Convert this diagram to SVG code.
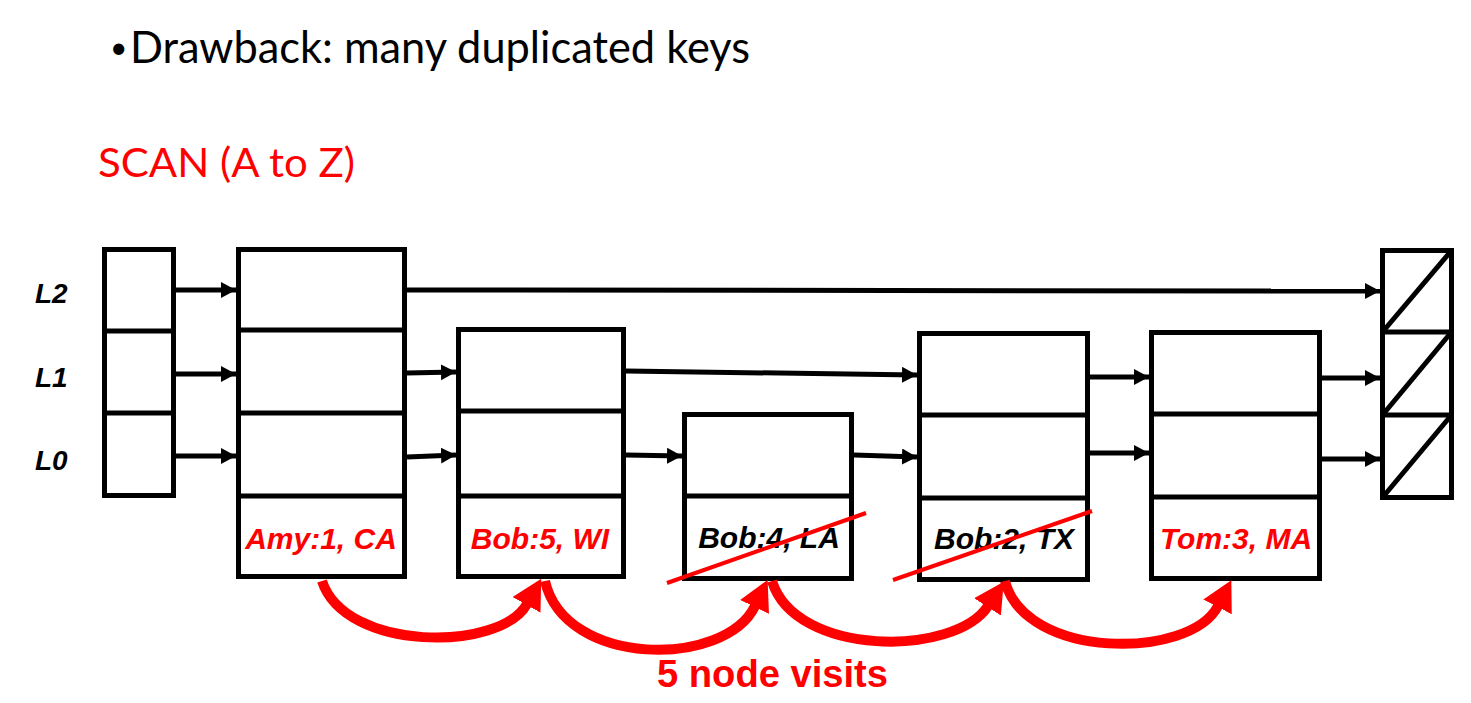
<svg xmlns="http://www.w3.org/2000/svg" width="1471" height="703" viewBox="0 0 1471 703">
<defs>
<style>
.box{fill:#fff;stroke:#000;stroke-width:5}
.div{stroke:#000;stroke-width:5}
.lnk{stroke:#000;stroke-width:5;fill:none;marker-end:url(#ah)}
.hop{stroke:#f00;stroke-width:10;fill:none;marker-end:url(#rh)}
.strike{stroke:#f00;stroke-width:4}
.lvl{font-family:"Liberation Sans",Arial,sans-serif;font-weight:bold;font-style:italic;font-size:28px;fill:#000}
.key{font-family:"Liberation Sans",Arial,sans-serif;font-weight:bold;font-style:italic;font-size:30px;text-anchor:middle}
.red{fill:#f00}
.blk{fill:#000}
</style>
<marker id="ah" markerUnits="userSpaceOnUse" markerWidth="16" markerHeight="18" refX="15" refY="8" orient="auto">
<path d="M0,0 L15,8 L0,16 Z" fill="#000"/>
</marker>
<marker id="rh" markerUnits="userSpaceOnUse" markerWidth="32" markerHeight="34" refX="1" refY="16" orient="auto">
<path d="M0,0 L30,16 L0,32 Z" fill="#f00"/>
</marker>
</defs>
<rect width="1471" height="703" fill="#fff"/>

<g id="title">
<text y="63" font-family="Lato,'Liberation Sans',sans-serif" font-size="44" fill="#000"><tspan x="110" y="58" font-size="30">•</tspan><tspan x="130" y="63" textLength="620" lengthAdjust="spacingAndGlyphs">Drawback: many duplicated keys</tspan></text>
</g>
<g id="scan-label">
<text x="98" y="177" font-family="Lato,'Liberation Sans',sans-serif" font-size="40" fill="#f00" textLength="257" lengthAdjust="spacingAndGlyphs">SCAN (A to Z)</text>
</g>
<g id="levels">
<text class="lvl" x="35" y="303">L2</text>
<text class="lvl" x="35" y="387">L1</text>
<text class="lvl" x="35" y="470">L0</text>
</g>

<g id="connectors">
<path class="lnk" d="M176,290 L236,290"/>
<path class="lnk" d="M176,374 L236,374"/>
<path class="lnk" d="M176,456 L236,456"/>
<path class="lnk" d="M407,290 L1380,291"/>
<path class="lnk" d="M407,373 L456,372"/>
<path class="lnk" d="M407,457 L456,455"/>
<path class="lnk" d="M626,371 L917,375"/>
<path class="lnk" d="M626,455 L682,456"/>
<path class="lnk" d="M854,455 L917,457"/>
<path class="lnk" d="M1090,377 L1149,377"/>
<path class="lnk" d="M1090,453 L1149,453"/>
<path class="lnk" d="M1322,378 L1380,378"/>
<path class="lnk" d="M1322,459 L1380,459"/>
</g>

<g id="head">
<rect class="box" x="104.5" y="249.5" width="69" height="246"/>
<line class="div" x1="104.5" y1="331" x2="173.5" y2="331"/>
<line class="div" x1="104.5" y1="413" x2="173.5" y2="413"/>
</g>

<g id="node-amy">
<rect class="box" x="238.5" y="249.5" width="166" height="327"/>
<line class="div" x1="238.5" y1="330" x2="404.5" y2="330"/>
<line class="div" x1="238.5" y1="413" x2="404.5" y2="413"/>
<line class="div" x1="238.5" y1="496" x2="404.5" y2="496"/>
<text class="key red" x="321" y="549">Amy:1, CA</text>
</g>

<g id="node-bob5">
<rect class="box" x="458.5" y="329.5" width="165" height="247"/>
<line class="div" x1="458.5" y1="411" x2="623.5" y2="411"/>
<line class="div" x1="458.5" y1="496" x2="623.5" y2="496"/>
<text class="key red" x="540" y="549">Bob:5, WI</text>
</g>

<g id="node-bob4">
<rect class="box" x="684.5" y="414.5" width="167" height="164"/>
<line class="div" x1="684.5" y1="496" x2="851.5" y2="496"/>
<text class="key blk" x="769" y="548">Bob:4, LA</text>
<line class="strike" x1="667" y1="583" x2="866" y2="513"/>
</g>

<g id="node-bob2">
<rect class="box" x="919.5" y="333.5" width="168" height="246"/>
<line class="div" x1="919.5" y1="415" x2="1087.5" y2="415"/>
<line class="div" x1="919.5" y1="498" x2="1087.5" y2="498"/>
<text class="key blk" x="1004" y="549">Bob:2, TX</text>
<line class="strike" x1="893" y1="580" x2="1092" y2="511"/>
</g>

<g id="node-tom">
<rect class="box" x="1151.5" y="332.5" width="168" height="246"/>
<line class="div" x1="1151.5" y1="414" x2="1319.5" y2="414"/>
<line class="div" x1="1151.5" y1="497" x2="1319.5" y2="497"/>
<text class="key red" x="1236" y="549">Tom:3, MA</text>
</g>

<g id="nil">
<rect class="box" x="1382.5" y="250.5" width="69" height="247"/>
<line class="div" x1="1382.5" y1="332" x2="1451.5" y2="332"/>
<line class="div" x1="1382.5" y1="415" x2="1451.5" y2="415"/>
<line class="div" x1="1382.5" y1="332" x2="1451.5" y2="250.5"/>
<line class="div" x1="1382.5" y1="415" x2="1451.5" y2="332"/>
<line class="div" x1="1382.5" y1="497.5" x2="1451.5" y2="415"/>
</g>

<g id="visits">
<path class="hop" d="M322,581 C345,652 500,652 527,604"/>
<path class="hop" d="M545,581 C565,668 725,668 755,606"/>
<path class="hop" d="M772,581 C795,657 955,657 988,606"/>
<path class="hop" d="M1005,581 C1025,660 1190,660 1218,606"/>
<text x="657" y="687" font-family="'Liberation Sans',Arial,sans-serif" font-weight="bold" font-size="38" fill="#f00" textLength="231" lengthAdjust="spacingAndGlyphs">5 node visits</text>
</g>
</svg>
